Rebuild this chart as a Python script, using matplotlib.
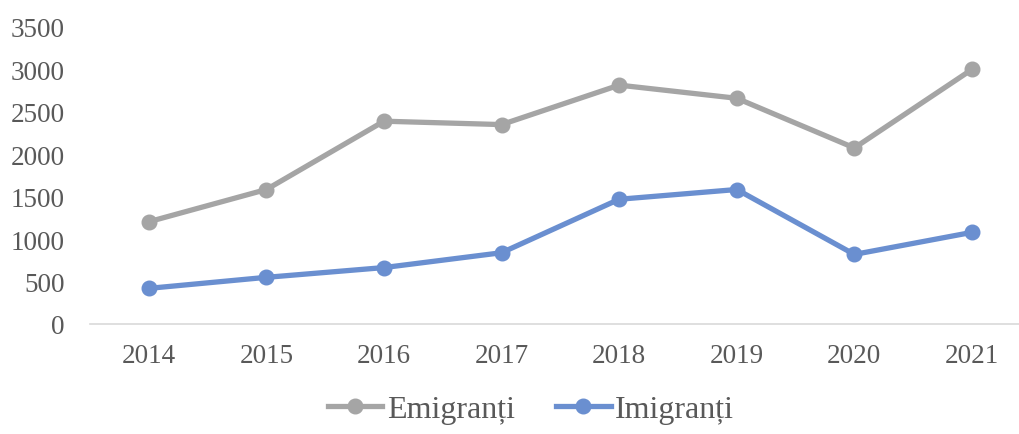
import matplotlib.pyplot as plt
import numpy as np

years = ["2014", "2015", "2016", "2017", "2018", "2019", "2020", "2021"]
emigranti = [1205, 1585, 2390, 2350, 2815, 2660, 2075, 3000]
imigranti = [420, 550, 665, 840, 1470, 1585, 820, 1080]

plt.rcParams['font.family'] = ['Liberation Serif', 'DejaVu Serif']
txt = "#595959"

fig = plt.figure(figsize=(10.19, 4.35), dpi=100)
ax = fig.add_axes([90/1019, 110/435, 929/1019, 297/435])

x = np.arange(len(years))
ax.plot(x, emigranti, color="#A5A5A5", lw=3.8, marker="o", ms=10.5, label="Emigranți")
ax.plot(x, imigranti, color="#6A8FD0", lw=3.8, marker="o", ms=10.5, label="Imigranți")

ax.set_xlim(-0.5, 7.4)
ax.set_ylim(0, 3500)
ax.set_yticks(range(0, 3501, 500))
ax.set_xticks(x)
ax.set_xticklabels(years)
ax.tick_params(axis="both", length=0, labelsize=19.5, colors=txt)
ax.tick_params(axis="x", pad=14)
ax.tick_params(axis="y", pad=18)
for s in ["top", "right", "left"]:
    ax.spines[s].set_visible(False)
ax.spines["bottom"].set_color("#D9D9D9")
ax.spines["bottom"].set_linewidth(1.2)

leg = fig.legend(loc="center", bbox_to_anchor=(531/1019, 1 - 410/435), ncol=2,
                 frameon=False, fontsize=23, handlelength=1.7, columnspacing=1.3,
                 handletextpad=0.15)
for t in leg.get_texts():
    t.set_color(txt)

fig.savefig("out.png", dpi=100)
